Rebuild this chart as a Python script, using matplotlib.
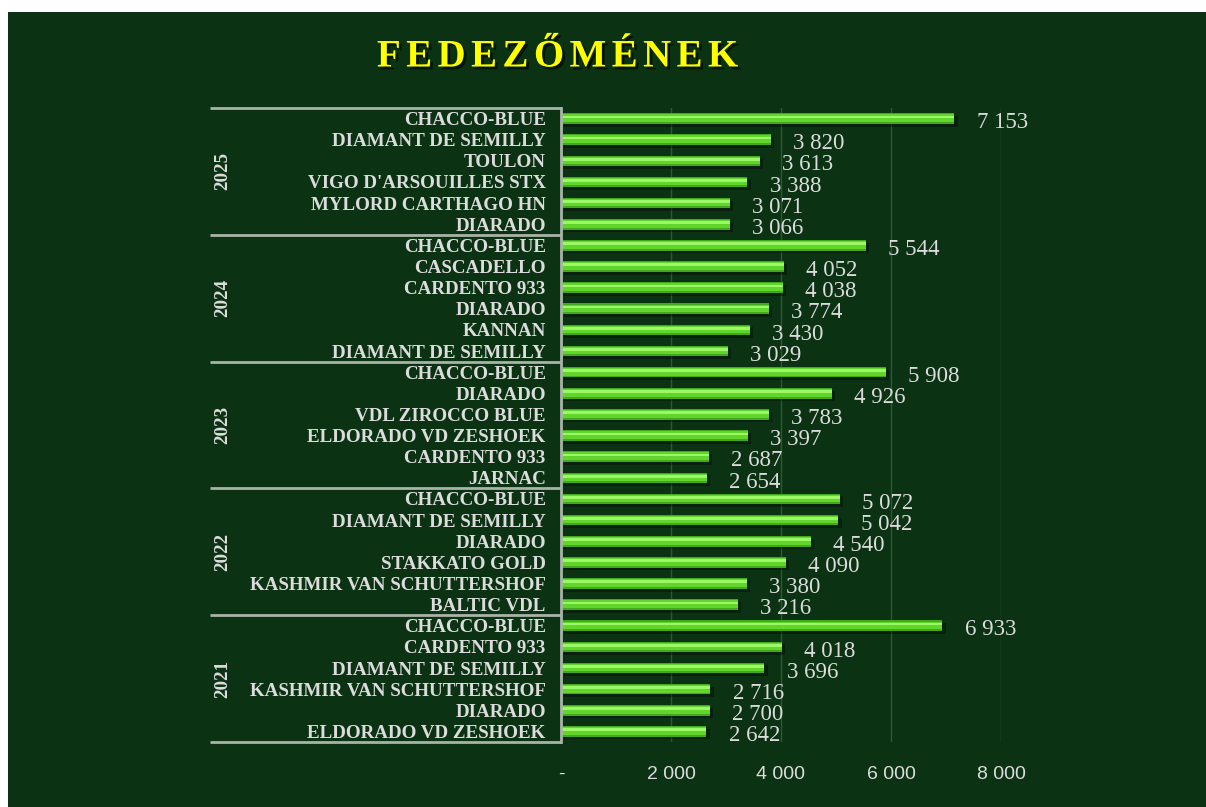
import matplotlib
matplotlib.use('Agg')
import matplotlib.pyplot as plt
import matplotlib.patheffects as pe
from matplotlib.patches import Rectangle
import matplotlib.transforms as mtransforms

years = ['2025', '2024', '2023', '2022', '2021']
horses = [
    ['CHACCO-BLUE', 'DIAMANT DE SEMILLY', 'TOULON', "VIGO D'ARSOUILLES STX", 'MYLORD CARTHAGO HN', 'DIARADO'],
    ['CHACCO-BLUE', 'CASCADELLO', 'CARDENTO 933', 'DIARADO', 'KANNAN', 'DIAMANT DE SEMILLY'],
    ['CHACCO-BLUE', 'DIARADO', 'VDL ZIROCCO BLUE', 'ELDORADO VD ZESHOEK', 'CARDENTO 933', 'JARNAC'],
    ['CHACCO-BLUE', 'DIAMANT DE SEMILLY', 'DIARADO', 'STAKKATO GOLD', 'KASHMIR VAN SCHUTTERSHOF', 'BALTIC VDL'],
    ['CHACCO-BLUE', 'CARDENTO 933', 'DIAMANT DE SEMILLY', 'KASHMIR VAN SCHUTTERSHOF', 'DIARADO', 'ELDORADO VD ZESHOEK'],
]
values = [
    [7153, 3820, 3613, 3388, 3071, 3066],
    [5544, 4052, 4038, 3774, 3430, 3029],
    [5908, 4926, 3783, 3397, 2687, 2654],
    [5072, 5042, 4540, 4090, 3380, 3216],
    [6933, 4018, 3696, 2716, 2700, 2642],
]
xticks = [0, 2000, 4000, 6000, 8000]
xtick_labels = ['-', '2 000', '4 000', '6 000', '8 000']

bg = '#0b3313'
txt = '#dcdcdc'
serif = 'Liberation Serif'

labels = [h for grp in horses for h in grp]
vals = [v for grp in values for v in grp]
ypos = list(range(len(vals)))

fig = plt.figure(figsize=(12.06, 8.07), dpi=100, facecolor='white')
fig.patches.append(Rectangle((8 / 1206, 0), 1, 1 - 12 / 807, transform=fig.transFigure,
                             facecolor=bg, edgecolor='none', zorder=-10))
ax = fig.add_axes([561 / 1206, 1 - 742 / 807, 440 / 1206, 634 / 807])
ax.set_facecolor('none')

# bars with a simple 3D look
ax.barh([y + 0.13 for y in ypos], vals, height=0.5, left=60, color='black', alpha=0.35, zorder=2)
ax.barh(ypos, vals, height=0.5, color='#42a81c', zorder=3)
ax.barh([y - 0.02 for y in ypos], vals, height=0.36, color='#62d52c', zorder=4)
ax.barh([y - 0.08 for y in ypos], vals, height=0.13, color='#9af766', zorder=5)

for y, v in zip(ypos, vals):
    ax.annotate(f'{v:,}'.replace(',', ' '), (v, y), xytext=(16, -3), textcoords='offset points',
                ha='left', va='center', fontsize=16.5, color=txt, family=serif, zorder=6)

ax.set_xlim(0, 8000)
ax.set_ylim(len(vals) - 0.5, -0.5)
ax.set_xticks(xticks)
ax.set_xticklabels(xtick_labels, fontsize=14, color=txt, family='Liberation Sans')
ax.set_yticks(ypos)
ax.set_yticklabels(labels, fontsize=13.7, fontweight='bold', color=txt, family=serif)
ax.tick_params(axis='both', length=0)
ax.tick_params(axis='y', pad=11)
ax.tick_params(axis='x', pad=17)
ax.grid(axis='x', color='#2b5a2e', linewidth=1, zorder=0)
ax.set_axisbelow(True)
for s in ['top', 'right', 'bottom']:
    ax.spines[s].set_visible(False)
ax.spines['left'].set_color('#a8b4a8')
ax.spines['left'].set_linewidth(2)
ax.spines['left'].set_zorder(7)

# group separators and year labels
trans = mtransforms.blended_transform_factory(ax.transAxes, ax.transData)
left = (210 - 561) / 440
for i in range(len(years) + 1):
    yb = i * 6 - 0.5
    ax.plot([left, 0], [yb, yb], transform=trans, color='#a8b4a8', linewidth=2,
            clip_on=False, solid_capstyle='butt')
for i, yr in enumerate(years):
    ax.text((223 - 561) / 440, i * 6 + 2.5, yr, transform=trans, rotation=90, ha='center',
            va='center', fontsize=13.7, fontweight='bold', color=txt, family=serif)

# title with wide letter spacing
title = 'FEDEZŐMÉNEK'
renderer = fig.canvas.get_renderer()
tkw = dict(fontsize=28, fontweight='bold', color='#ffff00', family=serif,
           path_effects=[pe.withSimplePatchShadow(offset=(2, -2), shadow_rgbFace='black', alpha=0.6)])
widths = []
for ch in title:
    t = fig.text(0, 0, ch, **tkw)
    widths.append(t.get_window_extent(renderer).width)
    t.remove()
gap = 5.5
total = sum(widths) + gap * (len(title) - 1)
x = 557.5 - total / 2
for ch, w in zip(title, widths):
    fig.text(x / 1206, 1 - 57 / 807, ch, ha='left', va='center', **tkw)
    x += w + gap

fig.savefig('out.png', dpi=100, facecolor='white')
